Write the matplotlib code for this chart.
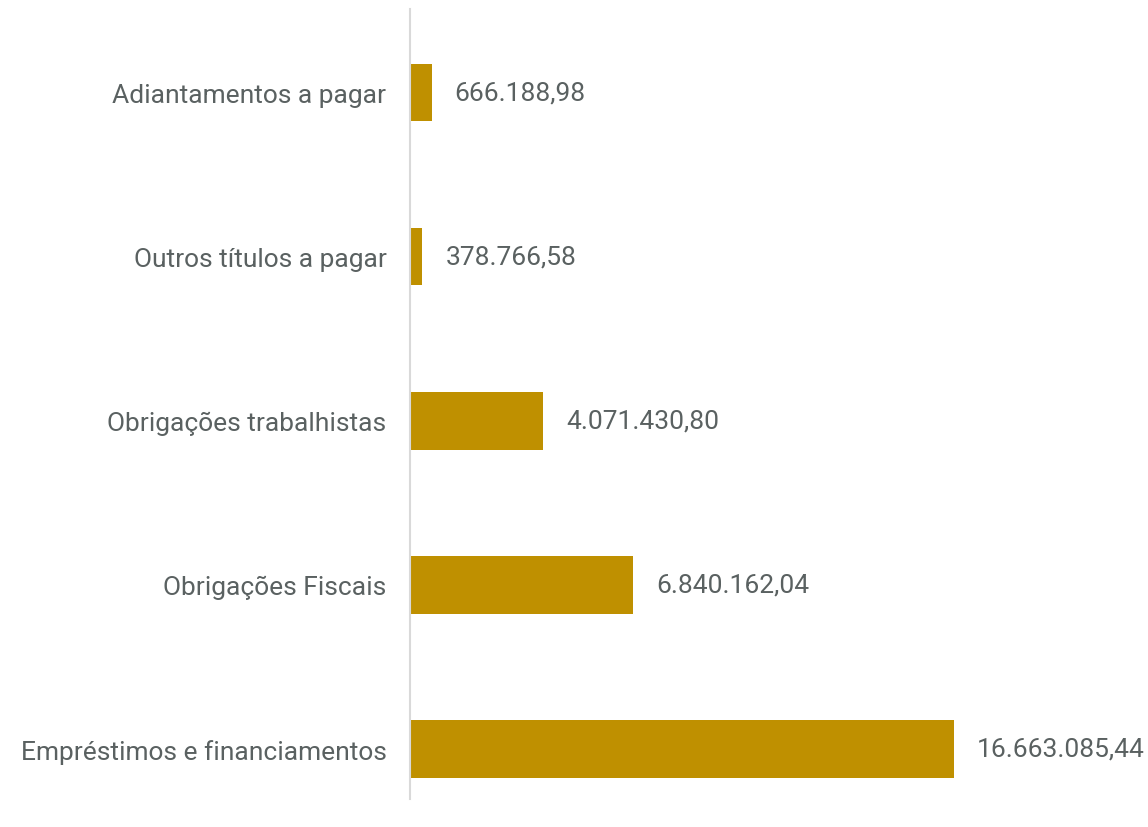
import matplotlib.pyplot as plt

plt.rcParams['font.family'] = ['Roboto', 'DejaVu Sans']

categorias = ['Empréstimos e financiamentos', 'Obrigações Fiscais',
              'Obrigações trabalhistas', 'Outros títulos a pagar',
              'Adiantamentos a pagar']
valores = [16663085.44, 6840162.04, 4071430.80, 378766.58, 666188.98]
rotulos = ['16.663.085,44', '6.840.162,04', '4.071.430,80',
           '378.766,58', '666.188,98']

cor_barra = '#BF9000'
cor_texto = '#5A6161'

fig = plt.figure(figsize=(11.48, 8.28), dpi=100)
# eixo começa em x=410px, barra maior termina em ~954px
ax = fig.add_axes([410 / 1148, 28 / 828, 738 / 1148, 790 / 828])

pos = range(len(categorias))
ax.barh(pos, valores, height=0.35, color=cor_barra)

xmax = 16663085.44 * 738 / 544
ax.set_xlim(0, xmax)
ax.set_ylim(-0.305, 4.51)

for p, v, r in zip(pos, valores, rotulos):
    ax.annotate(r, (v, p), xytext=(23, 0), textcoords='offset pixels',
                va='center', ha='left', fontsize=19, color=cor_texto)

ax.set_yticks(list(pos))
ax.set_yticklabels(categorias, fontsize=19, color=cor_texto)
ax.tick_params(axis='y', length=0, pad=17)
ax.set_xticks([])

for s in ['top', 'right', 'bottom']:
    ax.spines[s].set_visible(False)
ax.spines['left'].set_color('#D9D9D9')
ax.spines['left'].set_linewidth(1.5)

fig.savefig('out.png', dpi=100)
